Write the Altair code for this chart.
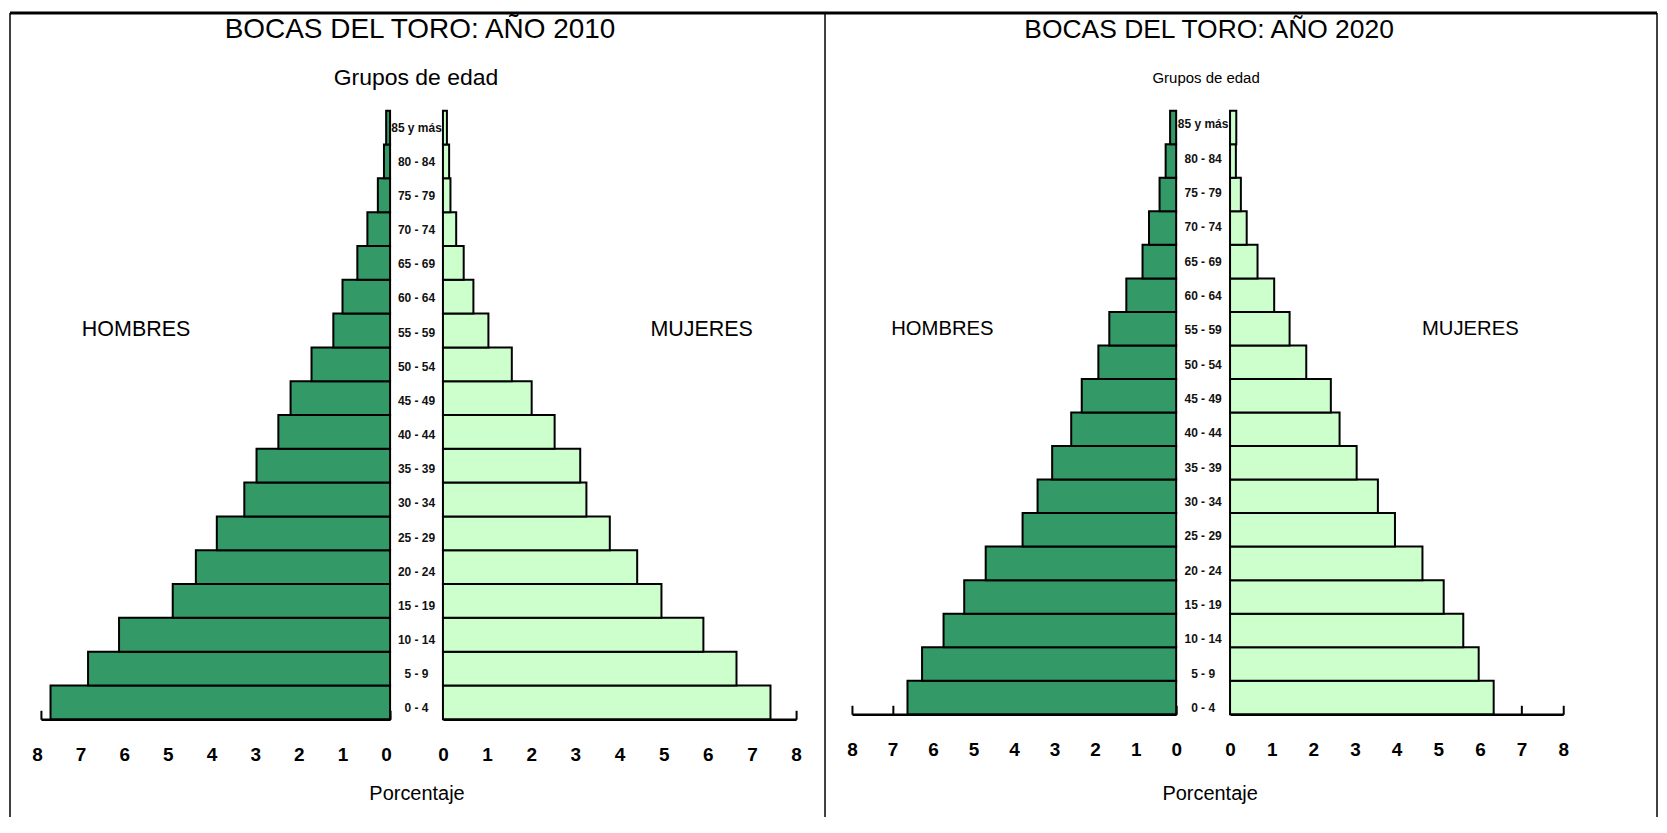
import altair as alt
import pandas as pd

AGES = ["0 - 4", "5 - 9", "10 - 14", "15 - 19", "20 - 24", "25 - 29", "30 - 34",
        "35 - 39", "40 - 44", "45 - 49", "50 - 54", "55 - 59", "60 - 64", "65 - 69",
        "70 - 74", "75 - 79", "80 - 84", "85 y más"]
AGES_TOP_DOWN = AGES[::-1]

MEN_2010 = [7.78, 6.92, 6.21, 4.98, 4.45, 3.97, 3.34, 3.06, 2.56, 2.28, 1.80, 1.30,
            1.09, 0.75, 0.52, 0.28, 0.14, 0.09]
WOMEN_2010 = [7.42, 6.65, 5.90, 4.95, 4.40, 3.78, 3.25, 3.11, 2.53, 2.01, 1.56, 1.03,
              0.69, 0.47, 0.30, 0.17, 0.14, 0.09]
MEN_2020 = [6.63, 6.27, 5.74, 5.23, 4.70, 3.79, 3.42, 3.06, 2.59, 2.33, 1.92, 1.65,
            1.23, 0.83, 0.67, 0.41, 0.26, 0.15]
WOMEN_2020 = [6.33, 5.97, 5.60, 5.13, 4.62, 3.96, 3.55, 3.04, 2.63, 2.42, 1.83, 1.43,
              1.06, 0.66, 0.40, 0.26, 0.14, 0.15]

TICKS = [0, 1, 2, 3, 4, 5, 6, 7, 8]
TITLES = ["BOCAS DEL TORO:  AÑO 2010", "BOCAS DEL TORO:  AÑO 2020"]
SIDE_LABELS = ["HOMBRES", "MUJERES"]
SIDE_LABEL_X = {"2010": [5.82, 5.86], "2020": [5.77, 5.77]}
SIDE_LABEL_ROW = "55 - 59"

MEN_COLOR = "#339966"
WOMEN_COLOR = "#CCFFCC"
FONT = "Liberation Sans, Arial, sans-serif"

ONE = alt.Data(values=[{}])


def yenc(rng=None):
    if rng is None:
        sc = alt.Scale(domain=AGES_TOP_DOWN, paddingInner=0, paddingOuter=0)
    else:
        sc = alt.Scale(domain=AGES_TOP_DOWN, paddingInner=0, paddingOuter=0, range=rng)
    return alt.Y("edad:N", sort=AGES_TOP_DOWN, scale=sc, axis=None)


def half(values, side, label, label_x, width, height, label_size, label_offset=0,
         decor=()):
    df = pd.DataFrame({"edad": AGES, "pct": values})
    xscale = alt.Scale(domain=[0, 8], reverse=(side == "men"), nice=False, zero=True)
    bars = alt.Chart(df).mark_bar(
        fill=MEN_COLOR if side == "men" else WOMEN_COLOR,
        stroke="black", strokeWidth=2, opacity=1,
    ).encode(
        x=alt.X("pct:Q", scale=xscale,
                axis=alt.Axis(orient="top", offset=-height, labels=False, ticks=True,
                              tickSize=9, tickWidth=2, tickColor="black",
                              domain=True, domainColor="black", domainWidth=2.5,
                              grid=False, title=None, values=TICKS)),
        y=yenc(),
    )
    lab_df = pd.DataFrame({"pct": [label_x], "edad": [SIDE_LABEL_ROW], "t": [label]})
    lab = alt.Chart(lab_df).mark_text(
        font=FONT, fontSize=label_size, color="black", align="center", baseline="middle"
    ).encode(
        x=alt.X("pct:Q", scale=xscale,
                axis=alt.Axis(orient="bottom", domain=False, ticks=False, tickSize=0,
                              labelPadding=26, labelFont=FONT, labelFontSize=19,
                              labelFontWeight="bold", labelColor="black",
                              labelFlush=False, labelOverlap=False,
                              labelOffset=label_offset,
                              grid=False, title=None, values=TICKS)),
        y=yenc(),
        text="t:N",
    )
    return alt.layer(bars, lab, *decor).properties(width=width, height=height)


def center(width, height, top_shift, bottom_shift):
    df = pd.DataFrame({"edad": AGES})
    return alt.Chart(df).mark_text(
        font=FONT, fontSize=12, fontWeight="bold", color="#111111",
        align="center", baseline="middle"
    ).encode(
        y=yenc([top_shift, height + bottom_shift]), x=alt.value(width / 2),
        text="edad:N"
    ).properties(width=width, height=height)


def spacer(width, height):
    return alt.Chart(ONE).mark_point(opacity=0).encode(
        x=alt.value(0), y=alt.value(0)).properties(width=width, height=height)


# decorations, in pixels relative to the left men view
def vrule(x, y1, y2, w):
    return alt.Chart(ONE).mark_rule(color="black", strokeWidth=w).encode(
        x=alt.value(x), y=alt.value(y1), y2=alt.value(y2))


def hrule(y, x1, x2, w):
    return alt.Chart(ONE).mark_rule(color="black", strokeWidth=w).encode(
        y=alt.value(y), x=alt.value(x1), x2=alt.value(x2))


def txt(s, x, y, size):
    return alt.Chart(ONE).mark_text(text=s, font=FONT, fontSize=size, color="black",
                                    align="center", baseline="middle").encode(
        x=alt.value(x), y=alt.value(y))


decor = [
    hrule(-98, -31, 1620, 3),
    vrule(-31, -98, 708, 1.5),
    vrule(786, -98, 708, 1.5),
    vrule(1620, -98, 708, 1.5),
    txt(TITLES[0], 380, -81, 28),
    txt(TITLES[1], 1171, -81, 26.5),
    txt("Grupos de edad", 376, -33, 23),
    txt("Grupos de edad", 1168, -33, 15),
    txt("Porcentaje", 377, 685, 20),
    txt("Porcentaje", 1172, 685, 20),
]

H1, H2 = 610, 605
chart = alt.hconcat(
    half(MEN_2010, "men", SIDE_LABELS[0], SIDE_LABEL_X["2010"][0], 350, H1, 21.5,
         -4, decor),
    center(53, H1, -0.2, 6.2),
    half(WOMEN_2010, "women", SIDE_LABELS[1], SIDE_LABEL_X["2010"][1], 354, H1, 21.5),
    spacer(56, H2),
    half(MEN_2020, "men", SIDE_LABELS[0], SIDE_LABEL_X["2020"][0], 325, H2, 20.3),
    center(54, H2, -3.4, 10.9),
    half(WOMEN_2020, "women", SIDE_LABELS[1], SIDE_LABEL_X["2020"][1], 334, H2, 20.3),
    spacing=0, bounds="flush",
).properties(
    padding={"left": 0, "top": 2, "right": 0, "bottom": 0},
    background="white",
).configure_view(stroke=None)

chart.save("out.html", embed_options={"renderer": "svg", "actions": False})
